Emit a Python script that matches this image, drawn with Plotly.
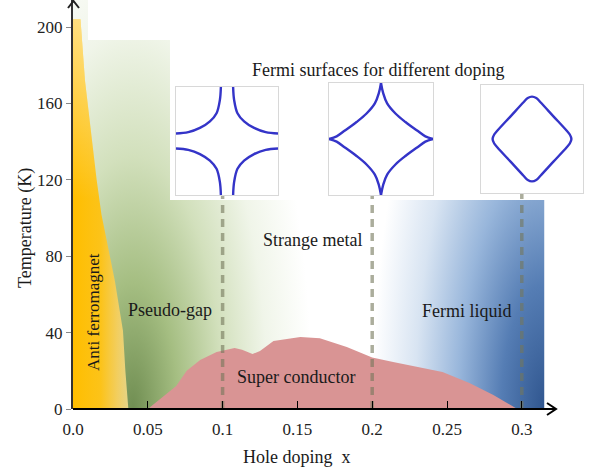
import plotly.graph_objects as go

# ---------------- data ----------------
# superconducting dome: hole doping x vs Tc (K)
sc_doping = [0.050, 0.069, 0.076, 0.085, 0.096, 0.108, 0.113, 0.120, 0.125, 0.134,
             0.152, 0.165, 0.183, 0.200, 0.214, 0.247, 0.265, 0.281, 0.297]
sc_tc = [0, 12.0, 20, 25.6, 29.8, 32, 31, 28.8, 30.4, 35.6,
         37.7, 37, 32.5, 27, 24.6, 19.4, 13.6, 7.3, 0]

# antiferromagnet boundary
afm_doping = [0.0, 0.037, 0.035, 0.0334, 0.028, 0.019, 0.0158, 0.008, 0.005, 0.0]
afm_temp = [0, 0, 20, 41, 67, 102, 120, 172, 204, 204]

# dashed guide lines (doping of each Fermi-surface inset) and their top (K)
guide_doping = [0.1, 0.2, 0.3]
guide_top = [112, 112, 113]

# x tick labels
x_tickvals = [0.0, 0.05, 0.1, 0.15, 0.2, 0.25, 0.3]
x_ticktext = ["0.0", "0.05", "0.1", "0.15", "0.2", "0.25", "0.3"]
y_tickvals = [0, 40, 80, 120, 160, 200]

# Fermi surfaces, one quadrant each (normalised Brillouin-zone coords)
fs1_u = [-0.12, -0.14, -0.205, -0.335, -0.531, -0.759, -1.0]
fs1_v = [1.0, 0.758, 0.515, 0.364, 0.242, 0.164, 0.139]
fs2_u = [0.0, -0.042, -0.118, -0.278, -0.470, -0.694, -0.853, -1.0]
fs2_v = [1.0, 0.818, 0.636, 0.455, 0.303, 0.152, 0.048, 0.0]
fs3_u = [0.0, 0.083, 0.166, 0.42, 0.677, 0.741, 0.773]
fs3_v = [0.785, 0.76, 0.68, 0.42, 0.157, 0.083, 0.0]

FONT = "Liberation Serif, Times New Roman, DejaVu Serif, serif"

# pixel helpers (layout only)
L, W = 73, 517
XPP = 1496.0      # px per doping unit
YPP = 1.91        # px per K
BOT = 409

def X(px): return (px - L) / XPP
def Y(py): return (BOT - py) / YPP
def PX(px): return (px - L) / W
def PY(py): return (BOT - py) / BOT

fig = go.Figure()

# pseudo-gap green (radial, centred at bottom-left)
gx0, grx, gry = 0.04, 0.12, 265
fig.add_trace(go.Scatter(
    x=[gx0 - grx, gx0 + grx, gx0 + grx, gx0 - grx, gx0 - grx],
    y=[-gry, -gry, gry, gry, -gry],
    fill="toself", mode="none", hoverinfo="skip", showlegend=False,
    fillgradient=dict(type="radial", colorscale=[
        [0, "rgb(112,142,82)"], [0.25, "rgb(165,190,130)"], [0.5, "rgb(210,224,188)"],
        [0.75, "rgb(240,245,233)"], [1, "rgb(255,255,255)"]])))

# Fermi-liquid blue (radial, centred at bottom-right corner; zero-area spikes set bbox)
bx0, brx, bry, btop = 0.315, 0.115, 260, 210
fig.add_trace(go.Scatter(
    x=[bx0 - brx, bx0, bx0 + brx, bx0, bx0, bx0, bx0, bx0, bx0 - brx, bx0 - brx],
    y=[0, 0, 0, 0, -bry, 0, bry, btop, btop, 0],
    fill="toself", mode="none", hoverinfo="skip", showlegend=False,
    fillgradient=dict(type="radial", colorscale=[
        [0, "rgb(48,86,143)"], [0.25, "rgb(85,125,180)"], [0.5, "rgb(152,182,219)"],
        [0.75, "rgb(216,228,242)"], [1, "rgb(255,255,255)"]])))

# antiferromagnet
fig.add_trace(go.Scatter(
    x=afm_doping, y=afm_temp, fill="toself", mode="none", hoverinfo="skip", showlegend=False,
    fillgradient=dict(type="horizontal", start=0, stop=0.037, colorscale=[
        [0, "rgb(255,190,0)"], [0.5, "rgb(252,195,25)"], [0.8, "rgb(242,206,95)"],
        [1, "rgb(230,212,135)"]])))
fig.add_trace(go.Scatter(
    x=afm_doping, y=afm_temp, fill="toself", mode="none", hoverinfo="skip", showlegend=False,
    fillgradient=dict(type="vertical", start=110, stop=205, colorscale=[
        [0, "rgba(255,255,255,0)"], [1, "rgba(255,255,255,0.5)"]])))

# white panels behind the insets / top
for (x0, x1, y0, y1) in [(170, 595, 40, 200), (88, 595, -5, 40)]:
    fig.add_trace(go.Scatter(
        x=[X(x0), X(x1), X(x1), X(x0), X(x0)], y=[Y(y1), Y(y1), Y(y0), Y(y0), Y(y1)],
        fill="toself", mode="none", fillcolor="white", hoverinfo="skip", showlegend=False))

# superconducting dome
fig.add_trace(go.Scatter(x=sc_doping, y=sc_tc, fill="toself", mode="none",
                         fillcolor="rgb(217,148,148)", hoverinfo="skip", showlegend=False))

# dashed guides
for gd, gt in zip(guide_doping, guide_top):
    fig.add_trace(go.Scatter(x=[gd, gd], y=[0, gt], mode="lines", hoverinfo="skip",
                             showlegend=False,
                             line=dict(color="rgba(115,118,90,0.6)", width=3.5, dash="8px,6px")))

# ---- Fermi surface insets ----
blue = "rgb(52,52,200)"

def seg(us, vs):
    return list(us) + [None], list(vs) + [None]

# inset 1: four open arcs
u1, v1 = [], []
for su, sv in [(1, 1), (-1, 1), (1, -1), (-1, -1)]:
    a, b = seg([su * u for u in fs1_u], [sv * v for v in fs1_v])
    u1 += a; v1 += b
fig.add_trace(go.Scatter(x=u1, y=v1, xaxis="x2", yaxis="y2", mode="lines",
                         line=dict(color=blue, width=2.4, shape="spline"),
                         hoverinfo="skip", showlegend=False))

# inset 2: cusped diamond (4 arcs)
u2, v2 = [], []
for su, sv in [(1, 1), (-1, 1), (1, -1), (-1, -1)]:
    a, b = seg([su * u for u in fs2_u], [sv * v for v in fs2_v])
    u2 += a; v2 += b
fig.add_trace(go.Scatter(x=u2, y=v2, xaxis="x3", yaxis="y3", mode="lines",
                         line=dict(color=blue, width=2.4, shape="spline"),
                         hoverinfo="skip", showlegend=False))

# inset 3: closed rounded diamond
q_u = list(fs3_u); q_v = list(fs3_v)
loop_u = q_u + [u for u in q_u[::-1]][1:] + [-u for u in q_u][1:] + [-u for u in q_u[::-1]][1:]
loop_v = q_v + [-v for v in q_v[::-1]][1:] + [-v for v in q_v][1:] + [v for v in q_v[::-1]][1:]
fig.add_trace(go.Scatter(x=loop_u, y=loop_v, xaxis="x4", yaxis="y4", mode="lines",
                         line=dict(color=blue, width=2.4, shape="spline"),
                         hoverinfo="skip", showlegend=False))

inset_axis = dict(range=[-1, 1], showline=True, mirror=True, linecolor="#d8d8d8", linewidth=1,
                  showgrid=False, zeroline=False, showticklabels=False, ticks="", fixedrange=True)

boxes = [(176, 278, 87, 195), (329, 433, 83, 195), (481, 583, 85, 193)]
layout_axes = {}
for i, (x0, x1, y0, y1) in enumerate(boxes, start=2):
    layout_axes[f"xaxis{i}"] = dict(inset_axis, domain=[PX(x0), PX(x1)], anchor=f"y{i}")
    layout_axes[f"yaxis{i}"] = dict(inset_axis, domain=[PY(y1), PY(y0)], anchor=f"x{i}")

tfont = dict(family=FONT, size=18, color="#1a1a1a")
annotations = [
    dict(text="Fermi surfaces for different doping", x=X(378), y=Y(70)),
    dict(text="Strange metal", x=X(312), y=Y(240)),
    dict(text="Pseudo-gap", x=X(170), y=Y(310)),
    dict(text="Fermi liquid", x=X(467), y=Y(311)),
    dict(text="Super conductor", x=X(296), y=Y(377)),
    dict(text="Anti ferromagnet", x=X(93), y=Y(312), textangle=-90,
         font=dict(family=FONT, size=17, color="#1a1a1a")),
]
ann = []
for a in annotations:
    d = dict(xref="x", yref="y", showarrow=False, font=tfont, xanchor="center", yanchor="middle")
    d.update(a)
    ann.append(d)
ann.append(dict(text="Temperature (K)", xref="paper", yref="paper", x=PX(25), y=PY(228),
                textangle=-90, showarrow=False, font=tfont, xanchor="center", yanchor="middle"))
ann.append(dict(text="Hole doping\u00a0 x", xref="paper", yref="paper", x=PX(297), y=PY(457),
                showarrow=False, font=tfont, xanchor="center", yanchor="middle"))

shapes = [
    dict(type="line", xref="paper", yref="paper", x0=PX(73), x1=PX(556), y0=0, y1=0,
         line=dict(color="black", width=2)),
    dict(type="path", xref="paper", yref="paper",
         path=f"M {PX(547)},{PY(403)} L {PX(556)},{PY(409)} L {PX(547)},{PY(415)}",
         line=dict(color="black", width=2)),
    dict(type="path", xref="paper", yref="paper",
         path=f"M {PX(68)},{PY(8)} L {PX(73.5)},{PY(1)} L {PX(79)},{PY(8)}",
         line=dict(color="#222", width=2)),
]

fig.update_layout(
    width=595, height=474,
    margin=dict(l=L, r=595 - L - W, t=0, b=474 - BOT),
    paper_bgcolor="white", plot_bgcolor="white",
    xaxis=dict(range=[0, W / XPP], showline=False, showgrid=False, zeroline=False,
               tickvals=x_tickvals, ticktext=x_ticktext, ticks="inside", ticklen=8,
               tickcolor="black", tickwidth=1.2, ticklabelstandoff=8,
               tickfont=dict(family=FONT, size=17, color="#222"), fixedrange=True),
    yaxis=dict(range=[0, BOT / YPP], showline=True, linecolor="#333", linewidth=2,
               showgrid=False, zeroline=False, tickvals=y_tickvals, ticks="outside",
               ticklen=5, tickcolor="#888", tickwidth=1,
               tickfont=dict(family=FONT, size=17, color="#222"), fixedrange=True),
    annotations=ann, shapes=shapes, showlegend=False,
    **layout_axes,
)

fig.write_html("out.html")
